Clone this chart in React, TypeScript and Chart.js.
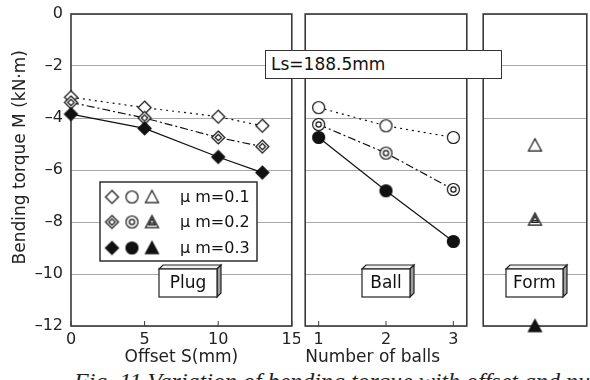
import React, { useEffect, useRef } from "react";
import { Chart, registerables } from "chart.js";
Chart.register(...registerables);

// ---- data ----
const plugOffsets = [0, 5, 10, 13];
const plugMu01 = [-3.2, -3.6, -3.95, -4.3];
const plugMu02 = [-3.4, -4.0, -4.75, -5.1];
const plugMu03 = [-3.85, -4.4, -5.5, -6.1];
const ballCounts = [1, 2, 3];
const ballMu01 = [-3.6, -4.3, -4.75];
const ballMu02 = [-4.25, -5.35, -6.75];
const ballMu03 = [-4.75, -6.8, -8.75];
const formPos = [0.5];
const formMu01 = [-5.05];
const formMu02 = [-7.9];
const formMu03 = [-12.0];
const yTicks = [0, -2, -4, -6, -8, -10, -12];
const plugTicks = [0, 5, 10, 15];
const ballTicks = [1, 2, 3];
const muLabels = ["\u03bc m=0.1", "\u03bc m=0.2", "\u03bc m=0.3"];
const panelLabels = ["Plug", "Ball", "Form"];
const yTitle = "Bending torque M (kN\u00b7m)";
const xTitles = ["Offset S(mm)", "Number of balls"];
const lsLabel = "Ls=188.5mm";
const caption = "Fig. 11  Variation of bending torque with offset and number of balls";

const FONT = "'DejaVu Sans', sans-serif";
const INK = "#111";
const dashes = [[2, 4], [8, 3, 2, 3], []];

type Shape = "diamond" | "circle" | "triangle";

function makeMarker(shape: Shape, variant: number): HTMLCanvasElement {
  const s = 17;
  const c = document.createElement("canvas");
  c.width = s;
  c.height = s;
  const g = c.getContext("2d")!;
  const m = s / 2;
  g.lineWidth = 1.2;
  g.strokeStyle = INK;
  g.fillStyle = variant === 2 ? INK : "#fff";
  const path = (r: number) => {
    g.beginPath();
    if (shape === "diamond") {
      g.moveTo(m, m - r);
      g.lineTo(m + r, m);
      g.lineTo(m, m + r);
      g.lineTo(m - r, m);
      g.closePath();
    } else if (shape === "circle") {
      g.arc(m, m, r, 0, Math.PI * 2);
    } else {
      g.moveTo(m, m - r);
      g.lineTo(m + r, m + r * 0.85);
      g.lineTo(m - r, m + r * 0.85);
      g.closePath();
    }
  };
  const R = shape === "circle" ? 6 : 6.5;
  path(R);
  g.fill();
  g.stroke();
  if (variant === 1) {
    if (shape === "circle") {
      path(2.6);
      g.stroke();
    } else if (shape === "diamond") {
      path(3.2);
      g.stroke();
    } else {
      path(3.4);
      g.stroke();
      g.beginPath();
      g.moveTo(m - 2, m + 1.2);
      g.lineTo(m + 2, m + 1.2);
      g.stroke();
    }
  }
  return c;
}

function drawBox3D(ctx: CanvasRenderingContext2D, x: number, y: number, w: number, h: number, text: string) {
  const d = 4;
  ctx.save();
  ctx.lineWidth = 1.2;
  ctx.strokeStyle = "#222";
  ctx.beginPath();
  ctx.moveTo(x, y);
  ctx.lineTo(x + d, y - d);
  ctx.lineTo(x + w + d, y - d);
  ctx.lineTo(x + w, y);
  ctx.closePath();
  ctx.fillStyle = "#f2f2f2";
  ctx.fill();
  ctx.stroke();
  ctx.beginPath();
  ctx.moveTo(x + w, y);
  ctx.lineTo(x + w + d, y - d);
  ctx.lineTo(x + w + d, y + h - d);
  ctx.lineTo(x + w, y + h);
  ctx.closePath();
  ctx.fillStyle = "#a0a0a0";
  ctx.fill();
  ctx.stroke();
  ctx.fillStyle = "#fff";
  ctx.fillRect(x, y, w, h);
  ctx.strokeRect(x, y, w, h);
  ctx.fillStyle = "#111";
  ctx.font = `17px ${FONT}`;
  ctx.textAlign = "center";
  ctx.textBaseline = "middle";
  ctx.fillText(text, x + w / 2, y + h / 2 + 1);
  ctx.restore();
}

interface Deco {
  ticks: boolean;
  box: { x: number; y: number; w: number; h: number; text: string };
  legend?: HTMLCanvasElement[][];
}

function decoPlugin(deco: Deco) {
  return {
    id: "deco",
    beforeDatasetsDraw(chart: any) {
      const { ctx, chartArea } = chart;
      ctx.save();
      ctx.strokeStyle = "#3a3a3a";
      ctx.lineWidth = 1.6;
      ctx.strokeRect(chartArea.left, chartArea.top, chartArea.right - chartArea.left, chartArea.bottom - chartArea.top);
      if (deco.ticks) {
        const xs = chart.scales.x;
        ctx.lineWidth = 1;
        ctx.beginPath();
        for (const t of xs.ticks) {
          const px = xs.getPixelForValue(t.value);
          ctx.moveTo(px, chartArea.bottom);
          ctx.lineTo(px, chartArea.bottom - 5);
        }
        ctx.stroke();
      }
      ctx.restore();
    },
    afterDraw(chart: any) {
      const { ctx } = chart;
      const b = deco.box;
      drawBox3D(ctx, b.x, b.y, b.w, b.h, b.text);
      if (deco.legend) {
        ctx.save();
        ctx.fillStyle = "#fff";
        ctx.strokeStyle = "#222";
        ctx.lineWidth = 1.4;
        ctx.fillRect(100, 182, 157, 79);
        ctx.strokeRect(100, 182, 157, 79);
        const rows = [197, 222, 248];
        const cols = [112, 132, 152];
        rows.forEach((ry, i) => {
          deco.legend![i].forEach((img, j) => {
            ctx.drawImage(img, cols[j] - img.width / 2, ry - img.height / 2);
          });
          ctx.fillStyle = "#111";
          ctx.font = `16px ${FONT}`;
          ctx.textAlign = "left";
          ctx.textBaseline = "middle";
          ctx.fillText(muLabels[i], 180, ry + 1);
        });
        ctx.restore();
      }
    },
  };
}

const tickFont = { family: FONT, size: 16 };
const titleFont = { family: FONT, size: 17 };

function yScale(show: boolean) {
  return {
    type: "linear",
    min: -12,
    max: 0,
    afterBuildTicks: (s: any) => {
      s.ticks = yTicks.map((v) => ({ value: v }));
    },
    afterFit: (s: any) => {
      s.width = show ? 71 : 0;
      s.paddingTop = 0;
      s.paddingBottom = 0;
    },
    grid: { color: "#a8a8a8", lineWidth: 1, drawTicks: false },
    border: { display: false },
    ticks: {
      display: show,
      color: "#222",
      font: tickFont,
      padding: 8,
      callback: (v: number) => (v === 0 ? "0" : "\u2013" + Math.abs(v)),
    },
    title: {
      display: show,
      text: "\u2002\u2002\u2002" + yTitle,
      color: "#222",
      font: titleFont,
      padding: { top: 10, bottom: 0 },
    },
  };
}

function xScale(min: number, max: number, ticks: number[] | null, title: string | null, align: string) {
  return {
    type: "linear",
    min,
    max,
    afterBuildTicks: (s: any) => {
      s.ticks = (ticks || []).map((v) => ({ value: v }));
    },
    afterFit: (s: any) => {
      s.height = 42;
      s.paddingLeft = 0;
      s.paddingRight = 0;
    },
    grid: { display: false, drawTicks: false },
    border: { display: false },
    ticks: {
      display: !!ticks,
      color: "#222",
      font: tickFont,
      padding: 4,
      maxRotation: 0,
      autoSkip: false,
    },
    title: {
      display: !!title,
      text: title || "",
      color: "#222",
      font: titleFont,
      align,
      padding: { top: 0, bottom: 0 },
    },
  };
}

function series(xs: number[], ys: number[], idx: number, marker: HTMLCanvasElement, line: boolean) {
  return {
    data: xs.map((x, i) => ({ x, y: ys[i] })),
    showLine: line,
    borderColor: INK,
    borderWidth: 1.2,
    borderDash: dashes[idx],
    pointStyle: marker,
    pointRadius: 7,
    clip: false,
    fill: false,
    tension: 0,
  };
}

function baseOptions(padding: any, x: any, y: any) {
  return {
    responsive: false,
    animation: false,
    layout: { padding },
    plugins: { legend: { display: false }, tooltip: { enabled: false } },
    scales: { x, y },
  };
}

export default function App() {
  const r1 = useRef<HTMLCanvasElement>(null);
  const r2 = useRef<HTMLCanvasElement>(null);
  const r3 = useRef<HTMLCanvasElement>(null);

  useEffect(() => {
    const shapes: Shape[] = ["diamond", "circle", "triangle"];
    const mk = [0, 1, 2].map((v) => shapes.map((s) => makeMarker(s, v)));
    const c1 = new Chart(r1.current!, {
      type: "scatter",
      data: {
        datasets: [
          series(plugOffsets, plugMu03, 2, mk[2][0], true),
          series(plugOffsets, plugMu02, 1, mk[1][0], true),
          series(plugOffsets, plugMu01, 0, mk[0][0], true),
        ],
      },
      options: baseOptions(
        { left: 0, right: 7, top: 14, bottom: 0 },
        xScale(0, 15, plugTicks, xTitles[0], "center"),
        yScale(true)
      ) as any,
      plugins: [
        decoPlugin({
          ticks: true,
          box: { x: 159, y: 269, w: 58, h: 28, text: panelLabels[0] },
          legend: mk,
        }),
      ],
    } as any);
    const c2 = new Chart(r2.current!, {
      type: "scatter",
      data: {
        datasets: [
          series(ballCounts, ballMu03, 2, mk[2][1], true),
          series(ballCounts, ballMu02, 1, mk[1][1], true),
          series(ballCounts, ballMu01, 0, mk[0][1], true),
        ],
      },
      options: baseOptions(
        { left: 4, right: 4, top: 14, bottom: 0 },
        xScale(0.8, 3.2, ballTicks, xTitles[1], "start"),
        yScale(false)
      ) as any,
      plugins: [decoPlugin({ ticks: true, box: { x: 65, y: 269, w: 48, h: 28, text: panelLabels[1] } })],
    } as any);
    const c3 = new Chart(r3.current!, {
      type: "scatter",
      data: {
        datasets: [
          series(formPos, formMu03, 2, mk[2][2], false),
          series(formPos, formMu02, 1, mk[1][2], false),
          series(formPos, formMu01, 0, mk[0][2], false),
        ],
      },
      options: baseOptions(
        { left: 4, right: 2, top: 14, bottom: 0 },
        xScale(0, 1, null, null, "center"),
        yScale(false)
      ) as any,
      plugins: [decoPlugin({ ticks: false, box: { x: 31, y: 269, w: 57, h: 28, text: panelLabels[2] } })],
    } as any);
    return () => {
      c1.destroy();
      c2.destroy();
      c3.destroy();
    };
  }, []);

  return (
    <div
      style={{
        position: "fixed",
        left: 0,
        top: 0,
        width: 590,
        height: 380,
        overflow: "hidden",
        background: "#fff",
      }}
    >
      <canvas ref={r1} width={300} height={368} style={{ position: "absolute", left: 0, top: 0 }} />
      <canvas ref={r2} width={178} height={368} style={{ position: "absolute", left: 297, top: 0 }} />
      <canvas ref={r3} width={120} height={368} style={{ position: "absolute", left: 475, top: 0 }} />
      <div
        style={{
          position: "absolute",
          left: 265,
          top: 50,
          width: 237,
          height: 29,
          boxSizing: "border-box",
          border: "1.5px solid #333",
          background: "#fff",
          fontFamily: FONT,
          fontSize: 17,
          lineHeight: "26px",
          paddingLeft: 5,
          color: "#111",
        }}
      >
        {lsLabel}
      </div>
      <div
        style={{
          position: "absolute",
          left: 74,
          top: 369,
          whiteSpace: "nowrap",
          fontFamily: "'Liberation Serif', serif",
          fontStyle: "italic",
          fontSize: 24,
          lineHeight: "24px",
          color: "#222",
        }}
      >
        {caption}
      </div>
    </div>
  );
}
